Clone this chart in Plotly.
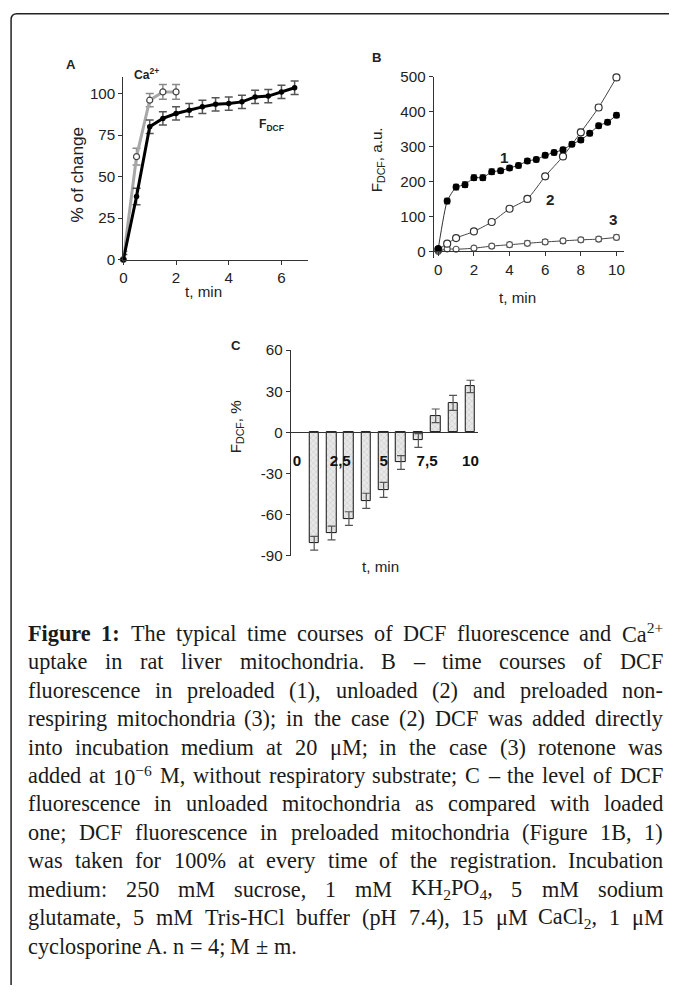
import plotly.graph_objects as go

PAGE_W, PAGE_H, OFF = 677, 993, 8
W, H = PAGE_W - 2 * OFF, PAGE_H - 2 * OFF
# measured mapping page -> picture: x' = 4 + 0.99 x, y' = 6.5 + 0.985 y ; invert it
def px(x): return (((x - 4.0) / 0.99) - OFF) / W
def py(y): return 1 - (((y - 6.5) / 0.985) - OFF) / H
FSCL = 1.012

# ---------------- data ----------------
a_time_ca = [0, 0.5, 1, 1.5, 2]
a_ca = [0, 62, 96, 101, 101]
a_ca_err = [5, 5, 4, 4.5, 4.5]
a_time_dcf = [0, 0.5, 1, 1.5, 2, 2.5, 3, 3.5, 4, 4.5, 5, 5.5, 6, 6.5]
a_dcf = [0, 38, 80, 85, 88, 90, 92, 93.5, 94, 95, 98, 98.5, 101, 103.5]
a_dcf_err = [3, 5, 4, 4, 4, 4, 4, 4, 4, 4, 4, 4, 4, 4]
a_xticks = [0, 2, 4, 6]
a_yticks = [0, 25, 50, 75, 100]

b_time1 = [0, 0.5, 1, 1.5, 2, 2.5, 3, 3.5, 4, 4.5, 5, 5.5, 6, 6.5, 7, 7.5, 8, 8.5, 9, 9.5, 10]
b_s1 = [8, 144, 184, 191, 211, 211, 228, 231, 239, 246, 259, 263, 275, 283, 291, 307, 319, 338, 360, 370, 390]
b_s1_err = [5, 8, 8, 8, 8, 8, 8, 7, 7, 7, 7, 7, 7, 7, 7, 7, 7, 7, 7, 7, 7]
b_time2 = [0, 0.5, 1, 2, 3, 4, 5, 6, 7, 8, 9, 10]
b_s2 = [5, 22, 38, 57, 84, 122, 150, 215, 272, 341, 412, 498]
b_s2_err = [3, 5, 6, 6, 6, 7, 8, 8, 9, 9, 8, 8]
b_time3 = [0, 0.5, 1, 2, 3, 4, 5, 6, 7, 8, 9, 10]
b_s3 = [0, 7, 6, 9, 15, 19, 23, 27, 30, 33, 35, 40]
b_s3_err = [3, 5, 5, 6, 6, 7, 7, 7, 7, 7, 7, 7]
b_xticks = [0, 2, 4, 6, 8, 10]
b_yticks = [0, 100, 200, 300, 400, 500]

c_time = [1, 2, 3, 4, 5, 6, 7, 8, 9, 10]
c_val = [-81, -73.5, -63, -50, -42, -22, -6, 12, 21.5, 33.5]
c_err = [5, 5, 5, 5.5, 5.5, 5, 5, 5, 5.5, 4.5]
c_xtickvals = [0, 2.5, 5, 7.5, 10]
c_xticktext = ["0", "2,5", "5", "7,5", "10"]
c_yticks = [-90, -60, -30, 0, 30, 60]
c_yticktext = ["-90", "-60", "-30", "0", "30", "60"]

caption_lines = [
    "Figure 1: The typical time courses of DCF fluorescence and Ca^{2+}",
    "uptake in rat liver mitochondria. B – time courses of DCF",
    "fluorescence in preloaded (1), unloaded (2) and preloaded non-",
    "respiring mitochondria (3); in the case (2) DCF was added directly",
    "into incubation medium at 20 μM; in the case (3) rotenone was",
    "added at 10^{−6} M, without respiratory substrate; C – the level of DCF",
    "fluorescence in unloaded mitochondria as compared with loaded",
    "one; DCF fluorescence in preloaded mitochondria (Figure 1B, 1)",
    "was taken for 100% at every time of the registration. Incubation",
    "medium: 250 mM sucrose, 1 mM KH_{2}PO_{4}, 5 mM sodium",
    "glutamate, 5 mM Tris-HCl buffer (pH 7.4), 15 μM CaCl_{2}, 1 μM",
    "cyclosporine A. n = 4; M ± m.",
]

SANS = "Liberation Sans, Arial, sans-serif"
SERIF = "Liberation Serif, Times New Roman, serif"
TXT = "#222222"

fig = go.Figure()

fig.add_trace(go.Scatter(
    x=a_time_ca, y=a_ca, mode="lines+markers", xaxis="x", yaxis="y",
    line=dict(color="#a8a8a8", width=3),
    marker=dict(symbol="circle", size=6, color="white", line=dict(color="#444", width=1.2)),
    error_y=dict(type="data", array=a_ca_err, color="#8a8a8a", thickness=1.5, width=4),
    cliponaxis=False, showlegend=False))
fig.add_trace(go.Scatter(
    x=a_time_dcf, y=a_dcf, mode="lines+markers", xaxis="x", yaxis="y",
    line=dict(color="#000000", width=3),
    marker=dict(symbol="circle", size=5.5, color="#000"),
    error_y=dict(type="data", array=a_dcf_err, color="#555", thickness=1.5, width=4),
    cliponaxis=False, showlegend=False))

fig.add_trace(go.Scatter(
    x=b_time3, y=b_s3, mode="lines+markers", xaxis="x2", yaxis="y2",
    line=dict(color="#444", width=1, shape="spline", smoothing=0.6),
    marker=dict(symbol="circle", size=6, color="white", line=dict(color="#555", width=1.2)),
    error_y=dict(type="data", array=b_s3_err, color="#444", thickness=1, width=3),
    cliponaxis=False, showlegend=False))
fig.add_trace(go.Scatter(
    x=b_time2, y=b_s2, mode="lines+markers", xaxis="x2", yaxis="y2",
    line=dict(color="#444", width=1, shape="spline", smoothing=0.6),
    marker=dict(symbol="circle", size=7, color="white", line=dict(color="#333", width=1.2)),
    error_y=dict(type="data", array=b_s2_err, color="#444", thickness=1, width=3),
    cliponaxis=False, showlegend=False))
fig.add_trace(go.Scatter(
    x=b_time1, y=b_s1, mode="lines+markers", xaxis="x2", yaxis="y2",
    line=dict(color="#333", width=1, shape="spline", smoothing=0.5),
    marker=dict(symbol="circle", size=7, color="#000"),
    error_y=dict(type="data", array=b_s1_err, color="#333", thickness=1, width=3),
    cliponaxis=False, showlegend=False))

fig.add_trace(go.Bar(
    x=c_time, y=c_val, xaxis="x3", yaxis="y3", width=0.55,
    marker=dict(color="#e4e4e4", line=dict(color="#111", width=1),
                pattern=dict(shape="x", fgcolor="#a8a8a8", bgcolor="#e8e8e8", size=4, solidity=0.25)),
    error_y=dict(type="data", array=c_err, color="#555", thickness=1.2, width=4),
    showlegend=False))

TF = 15 * FSCL
axis_common = dict(showgrid=False, zeroline=False, showline=True, linecolor="#333", linewidth=1.2,
                   ticks="outside", ticklen=4, tickcolor="#333", tickwidth=1,
                   tickfont=dict(family=SANS, size=TF, color=TXT))

fig.update_layout(
    width=W, height=H, autosize=False,
    margin=dict(l=0, r=0, t=0, b=0),
    paper_bgcolor="white", plot_bgcolor="rgba(0,0,0,0)",
    bargap=0,
    xaxis=dict(axis_common, domain=[px(123), px(307)], range=[0, 7], anchor="y", tickvals=a_xticks),
    yaxis=dict(axis_common, domain=[py(257.5), py(74.5)], range=[0, 110], anchor="x", tickvals=a_yticks),
    xaxis2=dict(axis_common, domain=[px(432.7), px(622)], range=[-0.25, 10.4], anchor="free",
                position=py(249.3), tickvals=b_xticks),
    yaxis2=dict(axis_common, domain=[py(256.3), py(74.3)], range=[-20, 500], anchor="x2", tickvals=b_yticks),
    xaxis3=dict(axis_common, domain=[px(290), px(477)], range=[-0.35, 10.45], anchor="free",
                position=py(430.7), tickvals=c_xtickvals, ticktext=c_xticktext, ticks="",
                ticklabelstandoff=14, tickfont=dict(family=SANS, size=TF, color="#111", weight="bold")),
    yaxis3=dict(axis_common, domain=[py(554.3), py(348.3)], range=[-90, 60], anchor="x3",
                tickvals=c_yticks, ticktext=c_yticktext),
)

ann = []
def label(x, y, text, size=14, bold=False, angle=0, color=TXT, family=SANS, xanchor="center"):
    ann.append(dict(x=px(x), y=py(y), xref="paper", yref="paper", text=text, showarrow=False,
                    textangle=angle, xanchor=xanchor, yanchor="middle", borderpad=0,
                    font=dict(family=family, size=size * FSCL, color=color,
                              weight="bold" if bold else "normal")))

label(71, 62, "A", 13, True)
label(376, 55, "B", 13, True)
label(235, 344, "C", 13, True)
label(146, 72, "Ca<sup>2+</sup>", 12, True)
label(271, 123, "F<sub>DCF</sub>", 12, True)
label(77, 172, "% of change", 17, angle=-90)
label(203, 290, "t, min", 15)
label(503, 155, "1", 15, True)
label(549, 197, "2", 15, True)
label(611, 217, "3", 15, True)
label(376, 157, "F<sub>DCF</sub>, a.u.", 15, angle=-90)
label(516, 296, "t, min", 15)
label(236, 425, "F<sub>DCF</sub>, %", 15, angle=-90)
label(380, 565, "t, min", 15)

TW = {' ': 250, 'a': 444, 'b': 500, 'c': 444, 'd': 500, 'e': 444, 'f': 333, 'g': 500, 'h': 500, 'i': 278,
      'j': 278, 'k': 500, 'l': 278, 'm': 778, 'n': 500, 'o': 500, 'p': 500, 'q': 500, 'r': 333, 's': 389,
      't': 278, 'u': 500, 'v': 500, 'w': 722, 'x': 500, 'y': 500, 'z': 444,
      'A': 722, 'B': 667, 'C': 667, 'D': 722, 'E': 611, 'F': 556, 'G': 722, 'H': 722, 'I': 333, 'J': 389,
      'K': 722, 'L': 611, 'M': 889, 'N': 722, 'O': 722, 'P': 556, 'Q': 722, 'R': 667, 'S': 556, 'T': 611,
      'U': 722, 'V': 722, 'W': 944, 'X': 722, 'Y': 722, 'Z': 611,
      ',': 250, '.': 250, ':': 278, ';': 278, '(': 333, ')': 333, '-': 333, '–': 500, '=': 564,
      '±': 564, '%': 833, 'μ': 500, '+': 564, '−': 564}
TWB = {'F': 611, 'i': 278, 'g': 500, 'u': 556, 'r': 444, 'e': 444, '1': 500, ':': 333}

def cw(ch, bold):
    if ch.isdigit():
        return 500
    if bold and ch in TWB:
        return TWB[ch]
    return TW.get(ch, 500)

def parse(word, bold=False):
    html, width, i = "", 0.0, 0
    while i < len(word):
        if word[i] in "^_" and i + 1 < len(word) and word[i + 1] == "{":
            j = word.index("}", i)
            inner = word[i + 2:j]
            tag = "sup" if word[i] == "^" else "sub"
            html += f"<{tag}>{inner}</{tag}>"
            width += 0.7 * sum(cw(c, bold) for c in inner)
            i = j + 1
        else:
            html += word[i]
            width += cw(word[i], bold)
            i += 1
    if bold:
        html = f"<b>{html}</b>"
    return html, width

FS = 22
LEFT, RIGHT = 27, 660
Y0, DY = 632, 28.55
for li, line in enumerate(caption_lines):
    words = line.split(" ")
    toks = []
    for wi, w in enumerate(words):
        bold = (li == 0 and wi < 2)
        h, wd = parse(w, bold)
        toks.append((h, wd * FS / 1000.0))
    total = sum(t[1] for t in toks)
    if li < len(caption_lines) - 1 and len(toks) > 1:
        gap = (RIGHT - LEFT - total) / (len(toks) - 1)
    else:
        gap = 250 * FS / 1000.0
    xcur = LEFT
    y = Y0 + li * DY
    for h, wd in toks:
        label(xcur, y, h, FS, family=SERIF, color="#1a1a1a", xanchor="left")
        xcur += wd + gap

fig.update_layout(annotations=ann)

fig.add_shape(type="path", xref="paper", yref="paper",
              path=f"M {px(11)},{py(1020)} L {px(11)},{py(17)} Q {px(11)},{py(11)} {px(17)},{py(11)} L {px(720)},{py(11)}",
              line=dict(color="#222", width=1.5))

fig.write_html("out.html", config={"displayModeBar": False})
